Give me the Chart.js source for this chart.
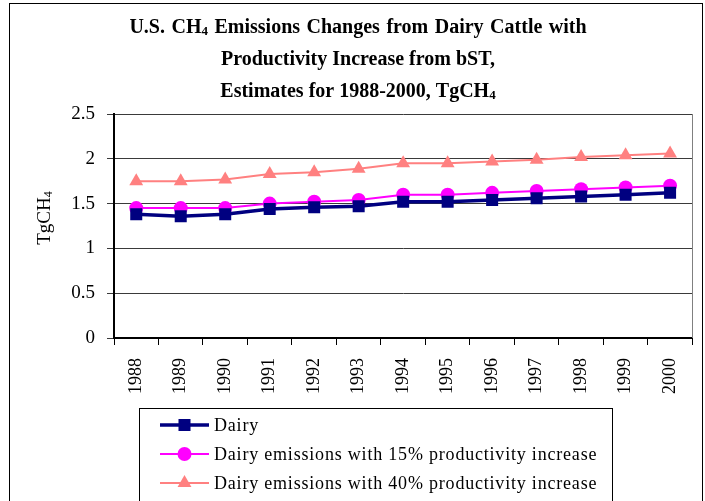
<!DOCTYPE html>
<html>
<head>
<meta charset="utf-8">
<script src="https://cdn.jsdelivr.net/npm/chart.js@4.4.1/dist/chart.umd.min.js"></script>
<style>
  body { margin: 0; background: #fff; }
  canvas { display: block; }
</style>
</head>
<body>
<canvas id="myChart" width="705" height="501"></canvas>
<script>
// values (TgCH4)
const years = ['1988', '1989', '1990', '1991', '1992', '1993', '1994',
               '1995', '1996', '1997', '1998', '1999', '2000'];
const dairy   = [1.38, 1.36, 1.38, 1.44, 1.46, 1.47, 1.52, 1.52, 1.54, 1.56, 1.58, 1.60, 1.62];
const dairy15 = [1.45, 1.45, 1.45, 1.50, 1.52, 1.54, 1.60, 1.60, 1.62, 1.64, 1.66, 1.68, 1.70];
const dairy40 = [1.75, 1.75, 1.77, 1.83, 1.85, 1.89, 1.95, 1.95, 1.97, 1.99, 2.02, 2.04, 2.06];
const seriesNames = ['Dairy',
                     'Dairy emissions with 15% productivity increase',
                     'Dairy emissions with 40% productivity increase'];
const yMin = 0, yMax = 2.5, yStep = 0.5;

// title pieces, second item = subscript
const titleLines = [
  [['U.S. CH', false], ['4', true], [' Emissions Changes from Dairy Cattle with', false]],
  [['Productivity Increase from bST,', false]],
  [['Estimates for 1988-2000, TgCH', false], ['4', true]]
];
const yTitle = [['TgCH', false], ['4', true]];

const serif = "'Liberation Serif', 'Times New Roman', serif";

// draw a line of text made of normal / subscript pieces
function drawPieces(ctx, pieces, x, y, size, bold, align) {
  const f = (sub) => (bold ? 'bold ' : '') + (sub ? Math.round(size * 0.65) : size) + 'px ' + serif;
  let w = 0;
  pieces.forEach(p => { ctx.font = f(p[1]); w += ctx.measureText(p[0]).width; });
  let cx = align === 'center' ? x - w / 2 : x;
  pieces.forEach(p => {
    ctx.font = f(p[1]);
    ctx.fillText(p[0], cx, p[1] ? y + size * 0.08 : y);
    cx += ctx.measureText(p[0]).width;
  });
}

const decorPlugin = {
  id: 'decor',
  afterDraw(chart) {
    const ctx = chart.ctx;
    const area = chart.chartArea;
    ctx.save();
    ctx.fillStyle = '#000';
    ctx.textBaseline = 'alphabetic';

    // outer frame
    ctx.strokeStyle = '#000';
    ctx.lineWidth = 1;
    ctx.strokeRect(9.5, 3.5, 693, 520);

    // title
    titleLines.forEach((line, i) => {
      ctx.wordSpacing = i === 0 ? '1.5px' : '0px';
      drawPieces(ctx, line, 358, 33 + i * 32, 20, true, 'center');
    });
    ctx.wordSpacing = '0px';

    // y axis title, rotated
    ctx.save();
    ctx.translate(50, 218);
    ctx.rotate(-Math.PI / 2);
    drawPieces(ctx, yTitle, 0, 0, 19, false, 'center');
    ctx.restore();

    // right edge of plot
    ctx.strokeStyle = '#808080';
    ctx.beginPath();
    ctx.moveTo(Math.round(area.right) + 0.5, area.top);
    ctx.lineTo(Math.round(area.right) + 0.5, area.bottom);
    ctx.stroke();

    // legend box
    ctx.strokeStyle = '#000';
    ctx.strokeRect(139.5, 408.5, 473, 95);
    chart.data.datasets.forEach((ds, i) => {
      const y = 425 + i * 29;
      ctx.strokeStyle = ds.borderColor;
      ctx.lineWidth = ds.borderWidth;
      ctx.beginPath();
      ctx.moveTo(160, y);
      ctx.lineTo(209, y);
      ctx.stroke();
      ctx.fillStyle = ds.pointBackgroundColor;
      ctx.strokeStyle = ds.pointBackgroundColor;
      ctx.lineWidth = 1;
      Chart.helpers.drawPoint(ctx, { pointStyle: ds.pointStyle, radius: ds.pointRadius, borderWidth: 0 }, 184.5, y);
      ctx.fillStyle = '#000';
      ctx.font = '18px ' + serif;
      ctx.letterSpacing = '0.8px';
      ctx.textBaseline = 'middle';
      ctx.fillText(ds.label, 214, y + 1);
      ctx.letterSpacing = '0px';
    });
    ctx.restore();
  }
};

const ctx = document.getElementById('myChart').getContext('2d');
const emissionsChart = new Chart(ctx, {
  type: 'line',
  data: {
    labels: years,
    datasets: [{
      label: seriesNames[0],
      data: dairy,
      borderColor: '#000080',
      backgroundColor: '#000080',
      pointBackgroundColor: '#000080',
      borderWidth: 3.5,
      pointStyle: 'rect',
      pointRadius: 8.5,
      pointBorderWidth: 0
    }, {
      label: seriesNames[1],
      data: dairy15,
      borderColor: '#ff00ff',
      backgroundColor: '#ff00ff',
      pointBackgroundColor: '#ff00ff',
      borderWidth: 2,
      pointStyle: 'circle',
      pointRadius: 7,
      pointBorderWidth: 0
    }, {
      label: seriesNames[2],
      data: dairy40,
      borderColor: '#ff8080',
      backgroundColor: '#ff8080',
      pointBackgroundColor: '#ff8080',
      borderWidth: 2,
      pointStyle: 'triangle',
      pointRadius: 8,
      pointBorderWidth: 0
    }]
  },
  options: {
    responsive: false,
    animation: false,
    layout: { padding: { left: 10, right: 8, top: 114, bottom: 94 } },
    plugins: {
      legend: { display: false },
      title: { display: false },
      tooltip: { enabled: false }
    },
    elements: { line: { tension: 0 } },
    scales: {
      x: {
        offset: true,
        afterFit(scale) { scale.height = 69; },
        grid: {
          offset: true,
          drawOnChartArea: false,
          color: '#000',
          tickLength: 7
        },
        border: { color: '#000', width: 2 },
        ticks: {
          color: '#000',
          font: { family: serif, size: 18 },
          minRotation: 90,
          maxRotation: 90,
          padding: 13
        }
      },
      y: {
        min: yMin,
        max: yMax,
        afterFit(scale) { scale.width = 104; },
        grid: { color: '#3a3a3a', tickLength: 7 },
        border: { color: '#000', width: 2 },
        ticks: {
          stepSize: yStep,
          color: '#000',
          font: { family: serif, size: 19 },
          padding: 12,
          callback: value => String(value)
        }
      }
    }
  },
  plugins: [decorPlugin]
});
</script>
</body>
</html>
